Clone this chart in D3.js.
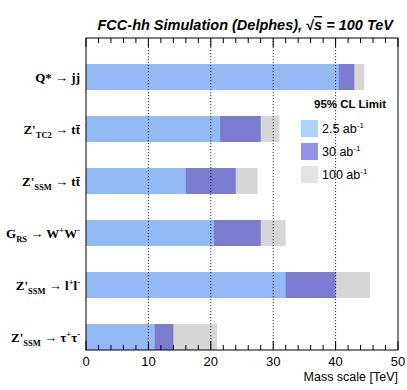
<!DOCTYPE html>
<html>
<head>
<meta charset="utf-8">
<script src="https://cdn.jsdelivr.net/npm/d3@7"></script>
<style>
  body { margin: 0; background: #fff; }
  svg { display: block; }
</style>
</head>
<body>
<svg id="chart"></svg>
<script>
// channels, top to bottom
const channels = ["qstar", "ztc2", "zssmtt", "grs", "zssmll", "zssmtautau"];
// 95% CL mass reach [TeV]
const lumi25 = [40.5, 21.5, 16.0, 20.5, 32.0, 11.0];
const lumi30 = [43.0, 28.0, 24.0, 28.0, 40.0, 14.0];
const lumi100 = [44.6, 31.0, 27.5, 32.0, 45.5, 21.0];
const xTicks = [0, 10, 20, 30, 40, 50];

const width = 407, height = 390;
const margin = { top: 38, right: 9, bottom: 40, left: 86 };

const svg = d3.select("#chart").attr("width", width).attr("height", height);

const x = d3.scaleLinear().domain([0, 50]).range([margin.left, width - margin.right]);
const y = d3.scaleBand().domain(channels).range([margin.top, height - margin.bottom]);

const colors = { bar: ["#93baf4", "#7b7bd0", "#d6d6d6"], legend: ["#aad4fd", "#9393e8", "#e3e3e3"] };

// bars: widest drawn first, then overlaid
const layers = [lumi100, lumi30, lumi25];
layers.forEach((vals, k) => {
  svg.append("g")
    .selectAll("rect")
    .data(channels)
    .enter()
    .append("rect")
    .attr("x", x(0))
    .attr("y", d => y(d) + y.bandwidth() / 2)
    .attr("width", (d, i) => x(vals[i]) - x(0))
    .attr("height", y.bandwidth() / 2)
    .attr("fill", colors.bar[2 - k]);
});

// dotted grid lines
svg.append("g")
  .selectAll("line")
  .data([10, 20, 30, 40])
  .enter()
  .append("line")
  .attr("x1", d => x(d)).attr("x2", d => x(d))
  .attr("y1", margin.top).attr("y2", height - margin.bottom)
  .attr("stroke", "#000")
  .attr("stroke-width", 0.8)
  .attr("stroke-dasharray", "1.2,1.8");

// ticks (inside, top and bottom)
const minor = d3.range(0, 51, 2).filter(v => v % 10 !== 0);
const yTop = margin.top, yBot = height - margin.bottom;
const tickG = svg.append("g").attr("stroke", "#000").attr("stroke-width", 1);
xTicks.forEach(v => {
  tickG.append("line").attr("x1", x(v)).attr("x2", x(v)).attr("y1", yBot).attr("y2", yBot - 9);
  tickG.append("line").attr("x1", x(v)).attr("x2", x(v)).attr("y1", yTop).attr("y2", yTop + 9);
});
minor.forEach(v => {
  tickG.append("line").attr("x1", x(v)).attr("x2", x(v)).attr("y1", yBot).attr("y2", yBot - 5);
  tickG.append("line").attr("x1", x(v)).attr("x2", x(v)).attr("y1", yTop).attr("y2", yTop + 5);
});

// frame
svg.append("rect")
  .attr("x", margin.left).attr("y", margin.top)
  .attr("width", width - margin.left - margin.right)
  .attr("height", height - margin.top - margin.bottom)
  .attr("fill", "none").attr("stroke", "#000").attr("stroke-width", 1);

// tick labels
svg.append("g")
  .selectAll("text")
  .data(xTicks)
  .enter()
  .append("text")
  .attr("x", d => x(d))
  .attr("y", yBot + 16)
  .attr("text-anchor", "middle")
  .attr("font-family", "Liberation Sans, Arial, sans-serif")
  .attr("font-size", 13)
  .text(d => d);

svg.append("text")
  .attr("x", width - margin.right)
  .attr("y", 381)
  .attr("text-anchor", "end")
  .attr("font-family", "Liberation Sans, Arial, sans-serif")
  .attr("font-size", 12.5)
  .text("Mass scale [TeV]");

// title
const title = svg.append("text")
  .attr("x", 393).attr("y", 30)
  .attr("text-anchor", "end")
  .attr("font-family", "Liberation Sans, Arial, sans-serif")
  .attr("font-size", 14.5)
  .attr("font-weight", "bold")
  .attr("font-style", "italic");
title.append("tspan").text("FCC-hh Simulation (Delphes),  ");
title.append("tspan").attr("font-style", "normal").text("\u221A");
title.append("tspan").attr("text-decoration", "overline").text("s");
title.append("tspan").text(" = 100 TeV");

// channel labels (serif, with sub/superscripts)
const labelParts = [
  [["Q*", ""], [" \u2192 jj", ""]],
  [["Z'", ""], ["TC2", "sub"], [" \u2192 t", ""], ["t\u0304", ""]],
  [["Z'", ""], ["SSM", "sub"], [" \u2192 t", ""], ["t\u0304", ""]],
  [["G", ""], ["RS", "sub"], [" \u2192 W", ""], ["+", "sup"], ["W", ""], ["-", "sup"]],
  [["Z'", ""], ["SSM", "sub"], [" \u2192 l", ""], ["+", "sup"], ["l", ""], ["-", "sup"]],
  [["Z'", ""], ["SSM", "sub"], [" \u2192 \u03C4", ""], ["+", "sup"], ["\u03C4", ""], ["-", "sup"]]
];
channels.forEach((c, i) => {
  const t = svg.append("text")
    .attr("x", 80)
    .attr("y", y(c) + y.bandwidth() * 0.75 + 5)
    .attr("text-anchor", "end")
    .attr("font-family", "Liberation Serif, Times New Roman, serif")
    .attr("font-weight", "bold")
    .attr("font-size", 13);
  labelParts[i].forEach(([s, kind]) => {
    const sp = t.append("tspan").text(s);
    if (kind === "sub") sp.attr("font-size", 8.5).attr("dy", 4);
    if (kind === "sup") sp.attr("font-size", 8.5).attr("dy", -5);
    if (kind === "" ) sp.attr("dy", 0);
  });
  // reset baseline after sub/sup
  let shift = 0;
  t.selectAll("tspan").each(function(d, j) {
    const kind = labelParts[i][j][1];
    const target = kind === "sub" ? 4 : kind === "sup" ? -5 : 0;
    d3.select(this).attr("dy", target - shift);
    shift = target;
  });
});

// legend
const lg = svg.append("g").attr("font-family", "Liberation Sans, Arial, sans-serif");
lg.append("text").attr("x", 386).attr("y", 108).attr("text-anchor", "end")
  .attr("font-size", 11.5).attr("font-weight", "bold").text("95% CL Limit");
const legendLabels = [["2.5 ab", "-1"], ["30 ab", "-1"], ["100 ab", "-1"]];
legendLabels.forEach((l, i) => {
  const yy = 120 + i * 23;
  lg.append("rect").attr("x", 301).attr("y", yy).attr("width", 17).attr("height", 17)
    .attr("fill", colors.legend[i]);
  const t = lg.append("text").attr("x", 322).attr("y", yy + 13).attr("font-size", 12.5);
  t.append("tspan").text(l[0]);
  t.append("tspan").attr("font-size", 8).attr("dy", -5).text(l[1]);
});
</script>
</body>
</html>
